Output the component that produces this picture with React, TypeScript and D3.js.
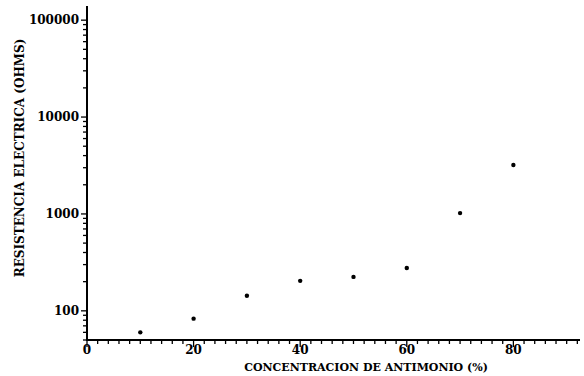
import React from "react";
import { scaleLinear, scaleLog, range } from "d3";

// antimony concentration (%) vs electrical resistance (ohms)
const concentracion = [10, 20, 30, 40, 50, 60, 70, 80];
const resistencia = [60, 83, 143, 204, 224, 277, 1020, 3200];
const xTickLabels = [0, 20, 40, 60, 80];
const yTickLabels = [100, 1000, 10000, 100000];

export default function App() {
  const width = 584;
  const height = 376;
  const left = 87;
  const right = 580;
  const top = 6;
  const bottom = 340;

  const x = scaleLinear().domain([0, 92.5]).range([left, right]);
  const y = scaleLog().domain([50, 140000]).range([bottom, top]);

  const xMinor = range(0, 93, 2);
  const yMinor = y.ticks();

  const font = "'DejaVu Serif', 'Liberation Serif', serif";

  return (
    <svg
      width={width}
      height={height}
      style={{ position: "absolute", left: 0, top: 0, background: "#fff" }}
      fontFamily={font}
      fontWeight="bold"
    >
      <rect width={width} height={height} fill="#fff" />
      {/* y axis */}
      <line x1={left} x2={left} y1={top} y2={bottom + 1} stroke="#000" strokeWidth={2} />
      {yMinor.map((t, i) => {
        const major = yTickLabels.includes(t);
        return (
          <line
            key={i}
            x1={left - (major ? 6 : 4)}
            x2={left}
            y1={y(t)}
            y2={y(t)}
            stroke="#000"
            strokeWidth={1.3}
          />
        );
      })}
      {yTickLabels.map((t) => (
        <text key={t} x={left - 8} y={y(t)} dy="0.35em" textAnchor="end" fontSize={12}>
          {t}
        </text>
      ))}
      {/* x axis */}
      <line x1={left - 1} x2={right} y1={bottom} y2={bottom} stroke="#000" strokeWidth={2} />
      {xMinor.map((t) => {
        const major = t % 20 === 0;
        return (
          <line
            key={t}
            x1={x(t)}
            x2={x(t)}
            y1={bottom}
            y2={bottom + (major ? 7 : 4)}
            stroke="#000"
            strokeWidth={1.3}
          />
        );
      })}
      {xTickLabels.map((t) => (
        <text key={t} x={x(t)} y={354} textAnchor="middle" fontSize={12}>
          {t}
        </text>
      ))}
      {/* points */}
      {concentracion.map((c, i) => (
        <circle key={c} cx={x(c)} cy={y(resistencia[i])} r={2.2} fill="#000" />
      ))}
      {/* titles */}
      <text x={366} y={371} textAnchor="middle" fontSize={11}>
        CONCENTRACION DE ANTIMONIO (%)
      </text>
      <text
        transform={`translate(24,158) rotate(-90)`}
        textAnchor="middle"
        fontSize={12}
      >
        RESISTENCIA ELECTRICA (OHMS)
      </text>
    </svg>
  );
}
